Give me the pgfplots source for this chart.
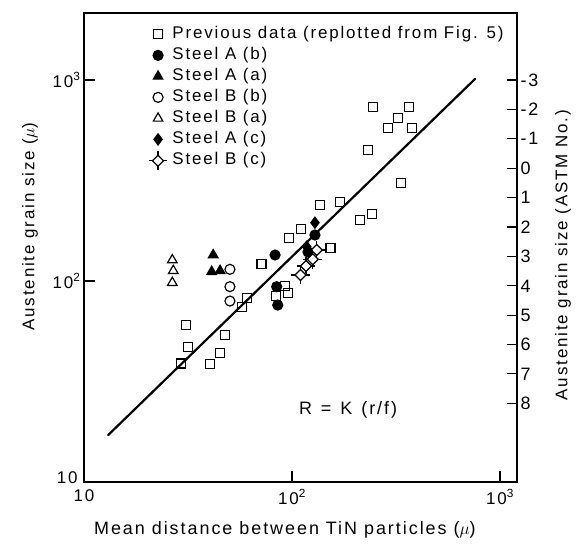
\documentclass[border=0pt]{standalone}
\usepackage{pgfplots}
\pgfplotsset{compat=1.18}
\usepackage{fontspec}
\setmainfont{Liberation Sans}[LetterSpace=11]

\pgfdeclareplotmark{dcross}{%
  \pgfpathmoveto{\pgfqpoint{-1.7\pgfplotmarksize}{0pt}}%
  \pgfpathlineto{\pgfqpoint{1.7\pgfplotmarksize}{0pt}}%
  \pgfpathmoveto{\pgfqpoint{0pt}{-1.7\pgfplotmarksize}}%
  \pgfpathlineto{\pgfqpoint{0pt}{1.7\pgfplotmarksize}}%
  \pgfusepathqstroke
  \pgfpathmoveto{\pgfqpoint{\pgfplotmarksize}{0pt}}%
  \pgfpathlineto{\pgfqpoint{0pt}{\pgfplotmarksize}}%
  \pgfpathlineto{\pgfqpoint{-\pgfplotmarksize}{0pt}}%
  \pgfpathlineto{\pgfqpoint{0pt}{-\pgfplotmarksize}}%
  \pgfpathclose
  \pgfusepathqfillstroke
}

\begin{document}
\begin{tikzpicture}
\path[use as bounding box] (0bp,0bp) rectangle (576bp,548bp);
\begin{axis}[
  at={(84bp,66bp)}, anchor=south west,
  scale only axis, width=433bp, height=469bp,
  xmode=log, ymode=log,
  xmin=10, xmax=1207, ymin=10, ymax=2154,
  xtick={10,100,1000}, xticklabels={10,10\textsuperscript{2},10\textsuperscript{3}},
  ytick={100,1000}, yticklabels={10\textsuperscript{2},10\textsuperscript{3}},
  extra y ticks={10}, extra y tick labels={10},
  extra y tick style={yticklabel style={xshift=-3bp, yshift=4bp}},
  xminorticks=false, yminorticks=false,
  tick align=inside, major tick length=11bp,
  xtick pos=left, ytick pos=left,
  axis line style={line width=1.6bp},
  every tick/.style={line width=1.2bp, black},
  font=\fontsize{17}{20}\selectfont,
  ticklabel style={font=\fontsize{17}{20}\selectfont},
  xticklabel style={yshift=-4bp},
  xlabel={Mean distance between TiN particles ($\mu$)},
  ylabel={Austenite grain size ($\mu$)},
  xlabel style={at={(axis description cs:0.464,-0.102)}, anchor=center, font=\fontsize{18}{21}\selectfont},
  ylabel style={at={(axis description cs:-0.125,0.544)}, anchor=center, font=\fontsize{17}{20}\selectfont},
  legend style={at={(axis description cs:0.149,0.974)}, anchor=north west,
    draw=none, fill=none, inner sep=0pt, row sep=3bp,
    nodes={inner sep=1bp, text height=12bp, text depth=4bp},
    /tikz/every odd column/.append style={column sep=4bp},
    font=\fontsize{17}{20}\selectfont},
  legend cell align=left,
  every axis plot/.append style={line width=1.2bp},
]
\addplot[only marks, mark=square, mark size=4.5bp] coordinates {
(30.9,60.4) (31.5,47.1) (29.2,38.9) (40.3,38.5) (45.1,43.7) (47.6,53.9)
(57.3,74.5) (60.6,82.6) (71.4,121.1) (96.5,163.2) (110.5,182.1) (136.3,238.8)
(170.2,246.4) (153.1,145.5) (92.5,94.4) (96.0,86.9) (83.8,84.2) (212.3,201.2)
(242.5,215.4) (232.7,448.4) (334.2,306.3) (245.2,731.4) (365.2,736.5)
(324.4,649.3) (290.4,575.0) (376.3,575.0)
};
\addlegendentry{Previous data (replotted from Fig. 5)}
\addplot[only marks, mark=*, mark size=5bp] coordinates {
(82.9,134.7) (84.4,93.7) (85.4,75.9) (128.9,169.3) (119.4,139.4)
};
\addlegendentry{Steel A (b)}
\addplot[only marks, mark=triangle*, mark size=5.5bp] coordinates {
(41.8,134.7) (41.1,111.2) (45.1,112.5)
};
\addlegendentry{Steel A (a)}
\addplot[only marks, mark=o, mark size=5bp] coordinates {
(50.3,114.3) (50.3,93.7) (50.3,79.5)
};
\addlegendentry{Steel B (b)}
\addplot[only marks, mark=triangle, mark size=5.5bp] coordinates {
(26.58,127.2) (26.87,112.5) (26.58,98.1)
};
\addlegendentry{Steel B (a)}
\addplot[only marks, mark=diamond*, mark size=5.5bp] coordinates {
(128.9,195.0) (117.7,148.1)
};
\addlegendentry{Steel A (c)}
\addplot[only marks, mark=dcross, mark size=5.5bp, mark options={fill=white}] coordinates {
(131.5,142.6) (125.8,128.2) (116.8,118.8) (109.9,107.1)
};
\addlegendentry{Steel B (c)}
\addplot[forget plot, no marks, line width=2.2bp, line cap=round] coordinates {(13.05,17.1) (758.6,1012)};
\node[font=\fontsize{18}{21}\selectfont] at (axis cs:186,22.8) {R\enspace=\enspace K\enspace(r/f)};
\end{axis}
\begin{axis}[
  at={(84bp,66bp)}, anchor=south west,
  scale only axis, width=433bp, height=469bp,
  xmode=log, ymode=log,
  xmin=10, xmax=1207, ymin=10, ymax=2154,
  axis x line=none, axis y line*=right,
  y axis line style={-, line width=1.6bp},
  ytick={1000,714.1,509.9,364.1,259.9,185.7,132.6,94.6,67.6,48.3,34.5,24.6},
  yticklabels={-3,-2,-1,0,1,2,3,4,5,6,7,8},
  yminorticks=false, tick align=inside, major tick length=10bp,
  every tick/.style={line width=1.2bp, black},
  ticklabel style={font=\fontsize{18}{20}\selectfont},
  ylabel={Austenite grain size (ASTM No.)},
  ylabel style={at={(axis description cs:1.106,0.484)}, anchor=center, font=\fontsize{17}{20}\selectfont},
]
\end{axis}
\end{tikzpicture}
\end{document}
